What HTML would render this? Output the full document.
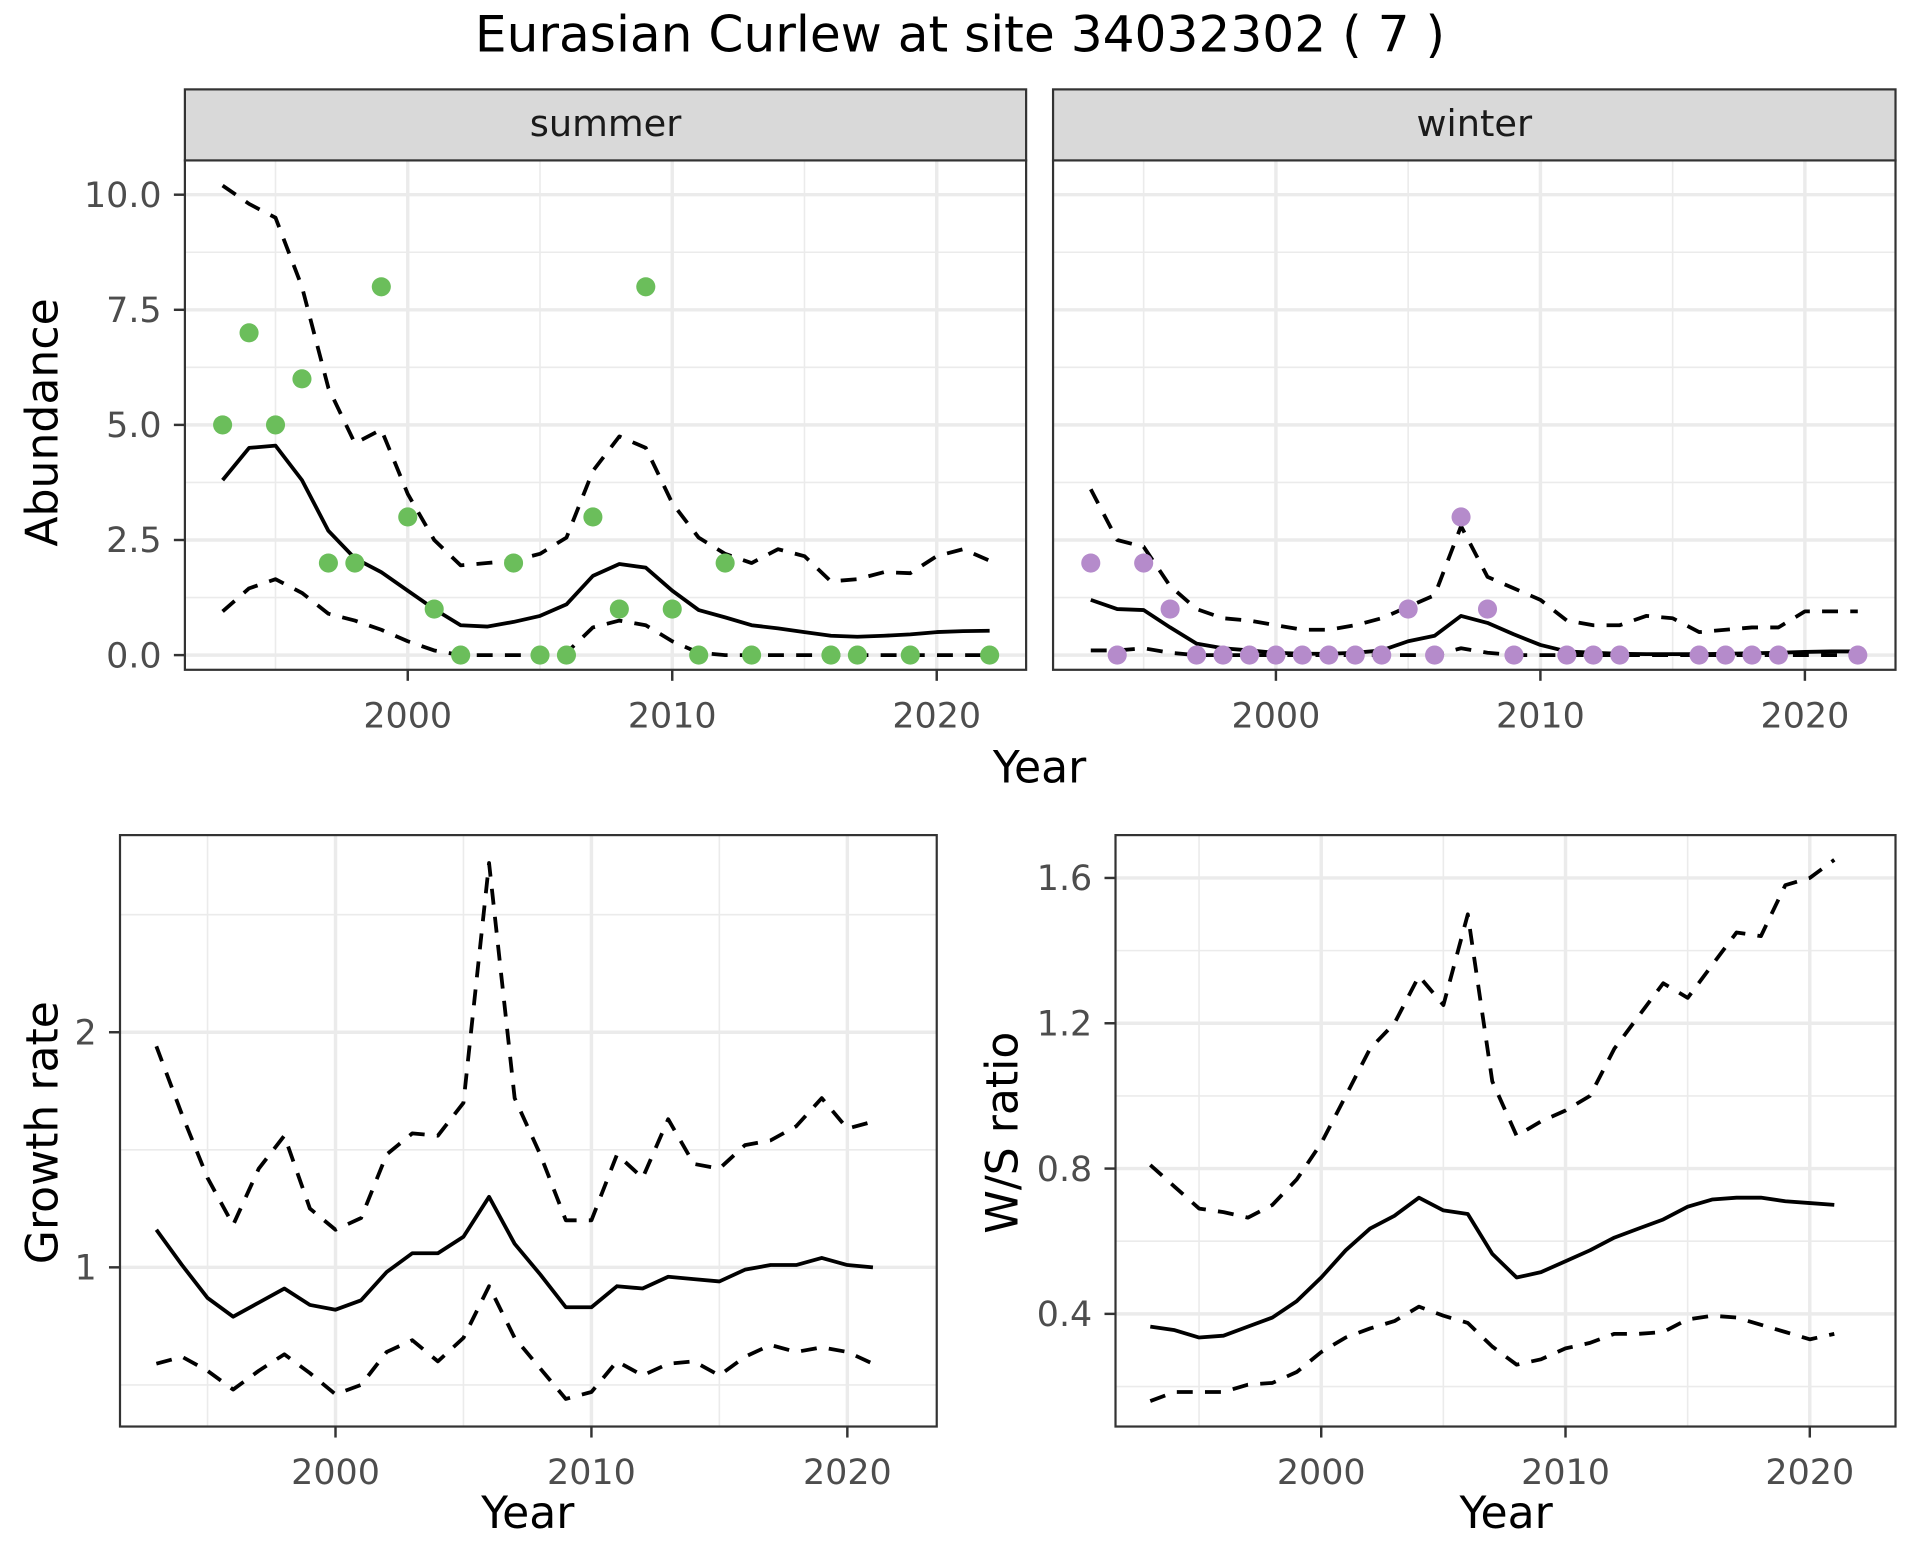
<!DOCTYPE html>
<html><head><meta charset="utf-8"><style>
html,body{margin:0;padding:0;background:#fff;}
svg{display:block;font-family:"DejaVu Sans","Liberation Sans",sans-serif;}
</style></head><body>
<svg id="chart" width="1920" height="1560" viewBox="0 0 1568 1274" preserveAspectRatio="none" xmlns="http://www.w3.org/2000/svg">
<rect width="1568" height="1274" fill="#fff"/>
<text x="784" y="42" font-size="41" text-anchor="middle" fill="#000">Eurasian Curlew at site 34032302 ( 7 )</text>
</svg>
<script>
// ---------- data ----------
const yearsAbund = [1993,1994,1995,1996,1997,1998,1999,2000,2001,2002,2003,2004,2005,2006,2007,2008,2009,2010,2011,2012,2013,2014,2015,2016,2017,2018,2019,2020,2021,2022];
const summerMean = [3.8,4.5,4.55,3.8,2.7,2.1,1.8,1.4,1.0,0.65,0.62,0.72,0.85,1.1,1.72,1.98,1.9,1.4,0.98,0.82,0.65,0.58,0.5,0.42,0.4,0.42,0.45,0.5,0.52,0.53];
const summerUpper = [10.2,9.8,9.5,8.0,5.8,4.6,4.9,3.5,2.5,1.95,2.0,2.05,2.2,2.55,4.0,4.75,4.5,3.3,2.55,2.2,2.0,2.3,2.15,1.6,1.65,1.8,1.78,2.15,2.3,2.05];
const summerLower = [0.95,1.45,1.65,1.35,0.9,0.75,0.55,0.3,0.1,0,0,0,0,0.05,0.6,0.75,0.65,0.3,0.05,0,0,0,0,0,0,0,0,0,0,0];
const summerObsYears = [1993,1994,1995,1996,1997,1998,1999,2000,2001,2002,2004,2005,2006,2007,2008,2009,2010,2011,2012,2013,2016,2017,2019,2022];
const summerObs = [5,7,5,6,2,2,8,3,1,0,2,0,0,3,1,8,1,0,2,0,0,0,0,0];
const winterMean = [1.2,1.0,0.98,0.6,0.25,0.15,0.1,0.05,0.03,0.03,0.05,0.1,0.3,0.42,0.85,0.7,0.45,0.22,0.08,0.05,0.03,0.02,0.02,0.02,0.03,0.04,0.05,0.07,0.08,0.08];
const winterUpper = [3.6,2.5,2.35,1.5,1.0,0.8,0.75,0.65,0.55,0.55,0.65,0.8,1.05,1.3,2.8,1.7,1.45,1.2,0.75,0.65,0.65,0.85,0.8,0.5,0.55,0.6,0.6,0.95,0.95,0.95];
const winterLower = [0.1,0.1,0.15,0.05,0,0,0,0,0,0,0,0,0,0,0.15,0.05,0,0,0,0,0,0,0,0,0,0,0,0,0,0];
const winterObsYears = [1993,1994,1995,1996,1997,1998,1999,2000,2001,2002,2003,2004,2005,2006,2007,2008,2009,2011,2012,2013,2016,2017,2018,2019,2022];
const winterObs = [2,0,2,1,0,0,0,0,0,0,0,0,1,0,3,1,0,0,0,0,0,0,0,0,0];
const yearsRate = [1993,1994,1995,1996,1997,1998,1999,2000,2001,2002,2003,2004,2005,2006,2007,2008,2009,2010,2011,2012,2013,2014,2015,2016,2017,2018,2019,2020,2021];
const growthMean = [1.16,1.01,0.87,0.79,0.85,0.91,0.84,0.82,0.86,0.98,1.06,1.06,1.13,1.3,1.1,0.97,0.83,0.83,0.92,0.91,0.96,0.95,0.94,0.99,1.01,1.01,1.04,1.01,1.0];
const growthUpper = [1.94,1.65,1.38,1.18,1.42,1.56,1.25,1.16,1.21,1.48,1.57,1.56,1.7,2.72,1.72,1.48,1.2,1.2,1.48,1.38,1.63,1.44,1.42,1.52,1.54,1.6,1.72,1.59,1.62];
const growthLower = [0.59,0.62,0.56,0.48,0.56,0.63,0.55,0.46,0.5,0.64,0.69,0.6,0.7,0.92,0.7,0.57,0.44,0.47,0.6,0.54,0.59,0.6,0.54,0.62,0.67,0.64,0.66,0.64,0.59];
const wsMean = [0.365,0.355,0.335,0.34,0.365,0.39,0.435,0.5,0.575,0.635,0.67,0.72,0.685,0.675,0.565,0.5,0.515,0.545,0.575,0.61,0.635,0.66,0.695,0.715,0.72,0.72,0.71,0.705,0.7];
const wsUpper = [0.81,0.75,0.69,0.68,0.665,0.7,0.77,0.87,1.0,1.13,1.2,1.33,1.25,1.5,1.04,0.89,0.93,0.96,1.0,1.13,1.22,1.31,1.27,1.36,1.45,1.44,1.58,1.6,1.65];
const wsLower = [0.16,0.185,0.185,0.185,0.205,0.21,0.24,0.295,0.335,0.36,0.38,0.42,0.395,0.375,0.31,0.26,0.275,0.305,0.32,0.345,0.345,0.35,0.385,0.395,0.39,0.37,0.35,0.33,0.345];
const xTicks = [2000,2010,2020];
const abundTicks = [0,2.5,5,7.5,10];
const abundTickLabels = ["0.0","2.5","5.0","7.5","10.0"];
const growthTicks = [1,2];
const growthTickLabels = ["1","2"];
const wsTicks = [0.4,0.8,1.2,1.6];
const wsTickLabels = ["0.4","0.8","1.2","1.6"];

// ---------- helpers ----------
const svg = document.getElementById('chart');
const NS = 'http://www.w3.org/2000/svg';
function mk(tag, attrs, parent){
  const e = document.createElementNS(NS, tag);
  for (const k in attrs) e.setAttribute(k, attrs[k]);
  (parent||svg).appendChild(e);
  return e;
}
function lin(d0,d1,r0,r1){ return v => r0 + (v-d0)*(r1-r0)/(d1-d0); }

function panel(o){
  const g = mk('g', {});
  
  
  const {x0,x1,y0,y1,sx,sy} = o;
  mk('rect',{x:x0,y:y0,width:x1-x0,height:y1-y0,fill:'#fff'},g);
  o.xMinor.forEach(v=>{ const x=sx(v); mk('line',{x1:x,x2:x,y1:y0,y2:y1,stroke:'#ebebeb','stroke-width':1.3},g); });
  o.yMinor.forEach(v=>{ const y=sy(v); mk('line',{x1:x0,x2:x1,y1:y,y2:y,stroke:'#ebebeb','stroke-width':1.3},g); });
  o.xMajor.forEach(v=>{ const x=sx(v); const l=mk('line',{x1:x,x2:x,y1:y0,y2:y1,stroke:'#ebebeb','stroke-width':2.8},g);
      });
  o.yMajor.forEach(v=>{ const y=sy(v); const l=mk('line',{x1:x0,x2:x1,y1:y,y2:y,stroke:'#ebebeb','stroke-width':2.8},g);
      });
  const series = [[o.upper,true,'upper-ci-line'],[o.lower,true,'lower-ci-line'],[o.mean,false,'mean-line']];
  series.forEach(([vals,dash,nm])=>{
    const pts = vals.map((v,i)=>sx(o.years[i]).toFixed(1)+','+sy(v).toFixed(1)).join(' ');
    const p = mk('polyline',{points:pts,fill:'none',stroke:'#000','stroke-width':3.1,'stroke-linejoin':'round'},g);
    if (dash) p.setAttribute('stroke-dasharray','13,10');
    
    
  });
  if (o.obs){
    o.obs.forEach((v,i)=>{
      const c = mk('circle',{cx:sx(o.obsYears[i]),cy:sy(v),r:7.8,fill:o.color},g);
      
      
    });
  }
  mk('rect',{x:x0,y:y0,width:x1-x0,height:y1-y0,fill:'none',stroke:'#333','stroke-width':1.8},g);
  xTicks.forEach(v=>{ const x=sx(v);
    mk('line',{x1:x,x2:x,y1:y1,y2:y1+9,stroke:'#333','stroke-width':2},g);
    const t=mk('text',{x:x,y:y1+47,'font-size':28.5,'text-anchor':'middle',fill:'#4d4d4d'},g); t.textContent=v;
     
  });
  if (o.yTicks){
    o.yTicks.forEach((v,i)=>{ const y=sy(v);
      mk('line',{x1:x0-9,x2:x0,y1:y,y2:y,stroke:'#333','stroke-width':2},g);
      const t=mk('text',{x:x0-19,y:y+10,'font-size':28.5,'text-anchor':'end',fill:'#4d4d4d'},g); t.textContent=o.yLabels[i];
       
    });
  }
  if (o.strip){
    const s=mk('rect',{x:x0,y:y0-58,width:x1-x0,height:58,fill:'#d9d9d9',stroke:'#333','stroke-width':1.8},g);
     
    const t=mk('text',{x:(x0+x1)/2,y:y0-20,'font-size':30,'text-anchor':'middle',fill:'#1a1a1a'},g); t.textContent=o.strip;
     
  }
}
function label(txt,x,y,rot,name){
  const t = mk('text',{x:x,y:y,'font-size':36,'text-anchor':'middle',fill:'#000'});
  if (rot) t.setAttribute('transform','rotate(-90 '+x+' '+y+')');
  t.textContent = txt;
  
  
}

const sxS = lin(2000,2020,333,765), sxW = lin(2000,2020,1042,1474);
const syA = lin(0,10,535,159);
const abMinor=[1.25,3.75,6.25,8.75], xMinorTop=[1995,2005,2015];
panel({name:'summer-panel',x0:151,x1:838,y0:131,y1:547,sx:sxS,sy:syA,years:yearsAbund,mean:summerMean,upper:summerUpper,lower:summerLower,
  obs:summerObs,obsYears:summerObsYears,color:'#6bbe5b',xMajor:xTicks,xMinor:xMinorTop,yMajor:abundTicks,yMinor:abMinor,yTicks:abundTicks,yLabels:abundTickLabels,strip:'summer'});
panel({name:'winter-panel',x0:860,x1:1548,y0:131,y1:547,sx:sxW,sy:syA,years:yearsAbund,mean:winterMean,upper:winterUpper,lower:winterLower,
  obs:winterObs,obsYears:winterObsYears,color:'#b58bcb',xMajor:xTicks,xMinor:xMinorTop,yMajor:abundTicks,yMinor:abMinor,strip:'winter'});
label('Year',849,639,false,'x-axis-title-top');
label('Abundance',47,345,true,'y-axis-title-abundance');

panel({name:'growth-rate-panel',x0:98,x1:765,y0:682,y1:1165,sx:lin(2000,2020,274,692),sy:lin(1,2,1035,843),years:yearsRate,
  mean:growthMean,upper:growthUpper,lower:growthLower,xMajor:xTicks,xMinor:[1995,2005,2015],yMajor:growthTicks,yMinor:[0.5,1.5,2.5],yTicks:growthTicks,yLabels:growthTickLabels});
label('Year',431,1248,false,'x-axis-title-growth');
label('Growth rate',47,925,true,'y-axis-title-growth');

panel({name:'ws-ratio-panel',x0:911,x1:1548,y0:682,y1:1165,sx:lin(2000,2020,1079,1478),sy:lin(0.4,1.6,1073,717),years:yearsRate,
  mean:wsMean,upper:wsUpper,lower:wsLower,xMajor:xTicks,xMinor:[1995,2005,2015],yMajor:wsTicks,yMinor:[0.2,0.6,1.0,1.4],yTicks:wsTicks,yLabels:wsTickLabels});
label('Year',1230,1248,false,'x-axis-title-ws');
label('W/S ratio',831,925,true,'y-axis-title-ws');
</script>
</body></html>
